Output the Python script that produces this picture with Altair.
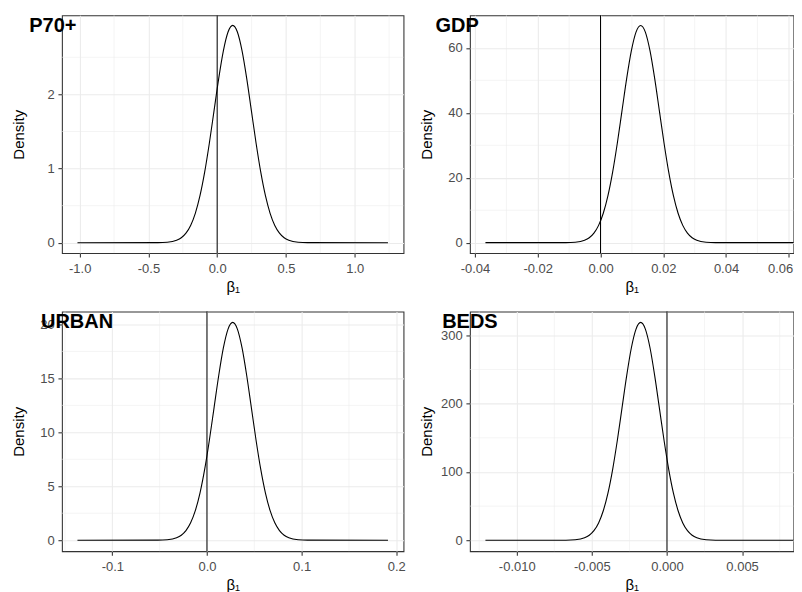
import altair as alt
import pandas as pd

# ---------------- data ----------------
PANEL_NAMES = ["P70+", "GDP", "URBAN", "BEDS"]

P70_X = [-1.016, -0.431, -0.363, -0.295, -0.261, -0.227, -0.193, -0.159, -0.125, -0.091,
         -0.057, -0.023, 0.011, 0.045, 0.079, 0.113, 0.147, 0.181, 0.215, 0.249,
         0.283, 0.317, 0.351, 0.385, 0.419, 0.453, 0.487, 0.521, 0.589, 0.657, 1.242]
P70_Y = [0.0, 0.001, 0.006, 0.033, 0.067, 0.129, 0.233, 0.397, 0.634, 0.951,
         1.341, 1.777, 2.212, 2.586, 2.840, 2.930, 2.840, 2.586, 2.212, 1.777,
         1.341, 0.951, 0.634, 0.397, 0.233, 0.129, 0.067, 0.033, 0.006, 0.001, 0.0]

GDP_X = [-0.03667, -0.01104, -0.00806, -0.00508, -0.00359, -0.0021, -0.00061, 0.00088,
         0.00237, 0.00386, 0.00535, 0.00684, 0.00833, 0.00982, 0.01131, 0.0128,
         0.01429, 0.01578, 0.01727, 0.01876, 0.02025, 0.02174, 0.02323, 0.02472,
         0.02621, 0.0277, 0.02919, 0.03068, 0.03366, 0.03664, 0.06227]
GDP_Y = [0.0, 0.023, 0.147, 0.743, 1.525, 2.940, 5.323, 9.054, 14.468, 21.719,
         30.629, 40.577, 50.499, 59.039, 64.842, 66.9, 64.842, 59.039, 50.499, 40.577,
         30.629, 21.719, 14.468, 9.054, 5.323, 2.940, 1.525, 0.743, 0.147, 0.023, 0.0]

URBAN_X = [-0.13681, -0.05184, -0.04196, -0.03208, -0.02714, -0.0222, -0.01726, -0.01232,
           -0.00738, -0.00244, 0.0025, 0.00744, 0.01238, 0.01732, 0.02226, 0.0272,
           0.03214, 0.03708, 0.04202, 0.04696, 0.0519, 0.05684, 0.06178, 0.06672,
           0.07166, 0.0766, 0.08154, 0.08648, 0.09636, 0.10624, 0.19121]
URBAN_Y = [0.0, 0.007, 0.044, 0.224, 0.460, 0.887, 1.606, 2.733, 4.366, 6.555,
           9.244, 12.246, 15.240, 17.817, 19.569, 20.19, 19.569, 17.817, 15.240, 12.246,
           9.244, 6.555, 4.366, 2.733, 1.606, 0.887, 0.460, 0.224, 0.044, 0.007, 0.0]

BEDS_X = [-0.012084, -0.00673, -0.006108, -0.005485, -0.005174, -0.004863, -0.004551, -0.00424,
          -0.003929, -0.003618, -0.003306, -0.002995, -0.002684, -0.002373, -0.002061, -0.00175,
          -0.001439, -0.001127, -0.000816, -0.000505, -0.000194, 0.000118, 0.000429, 0.00074,
          0.001051, 0.001363, 0.001674, 0.001985, 0.002608, 0.00323, 0.008584]
BEDS_Y = [0.0, 0.108, 0.699, 3.544, 7.270, 14.017, 25.380, 43.173, 68.990, 103.563,
          146.048, 193.483, 240.794, 281.518, 309.184, 319.0, 309.184, 281.518, 240.794, 193.483,
          146.048, 103.563, 68.990, 43.173, 25.380, 14.017, 7.270, 3.544, 0.699, 0.108, 0.0]

# axis breaks (major / minor) and limits
P70_XTICKS = [-1.0, -0.5, 0.0, 0.5, 1.0]
P70_XMINOR = [-0.75, -0.25, 0.25, 0.75, 1.25]
P70_YTICKS = [0, 1, 2]
P70_YMINOR = [0.5, 1.5, 2.5]
P70_XDOM = [-1.129, 1.355]
P70_YDOM = [-0.139, 3.065]

GDP_XTICKS = [-0.04, -0.02, 0.0, 0.02, 0.04, 0.06]
GDP_XMINOR = [-0.03, -0.01, 0.01, 0.03, 0.05]
GDP_YTICKS = [0, 20, 40, 60]
GDP_YMINOR = [10, 30, 50]
GDP_XDOM = [-0.04162, 0.0615]
GDP_YDOM = [-3.2, 70.0]

URBAN_XTICKS = [-0.1, 0.0, 0.1, 0.2]
URBAN_XMINOR = [-0.15, -0.05, 0.05, 0.15]
URBAN_YTICKS = [0, 5, 10, 15, 20]
URBAN_YMINOR = [2.5, 7.5, 12.5, 17.5]
URBAN_XDOM = [-0.15321, 0.20761]
URBAN_YDOM = [-1.02, 21.2]

BEDS_XTICKS = [-0.010, -0.005, 0.0, 0.005]
BEDS_XMINOR = [-0.0125, -0.0075, -0.0025, 0.0025, 0.0075]
BEDS_YTICKS = [0, 100, 200, 300]
BEDS_YMINOR = [50, 150, 250]
BEDS_XDOM = [-0.013117, 0.008421]
BEDS_YDOM = [-16.0, 335.0]

ZERO_LINE = [0.0]

FONT = "Liberation Sans"
MINUS = "\u2212"


def panel(name, xs, ys, xdom, ydom, xticks, yticks, xminor, yminor, digits,
          w, h, tag_dx, tag_dy):
    lbl = "replace(format(datum.value, '.%df'), '%s', '-')" % (digits, MINUS)
    edge = xdom[1] - (xdom[1] - xdom[0]) * 0.02
    xaxis = alt.Axis(
        values=xticks, labelExpr=lbl, title="β₁",
        titleY=38, titleBaseline="alphabetic", labelPadding=5.5,
        labelAlign={"condition": {"test": "datum.value > %r" % edge, "value": "right"},
                    "value": "center"},
        labelOffset={"condition": {"test": "datum.value > %r" % edge, "value": 4},
                     "value": 0},
    )
    yaxis = alt.Axis(values=yticks, title="Density", titleX=-38, titleY=h / 2,
                     titleAngle=270, titleAlign="center", titleBaseline="alphabetic",
                     labelPadding=3.8)
    xs_ = alt.Scale(domain=xdom, nice=False, zero=False)
    ys_ = alt.Scale(domain=ydom, nice=False, zero=False)

    curve = alt.Chart(pd.DataFrame({"x": xs, "y": ys})).mark_line(
        color="black", strokeWidth=1.1, interpolate="monotone", clip=True
    ).encode(
        x=alt.X("x:Q", scale=xs_, axis=xaxis),
        y=alt.Y("y:Q", scale=ys_, axis=yaxis),
    )
    vminor = alt.Chart(pd.DataFrame({"x": xminor})).mark_rule(
        color="#EBEBEB", strokeWidth=0.55
    ).encode(x=alt.X("x:Q", scale=xs_, axis=xaxis))
    hminor = alt.Chart(pd.DataFrame({"y": yminor})).mark_rule(
        color="#EBEBEB", strokeWidth=0.55
    ).encode(y=alt.Y("y:Q", scale=ys_, axis=yaxis))
    vzero = alt.Chart(pd.DataFrame({"x": ZERO_LINE})).mark_rule(
        color="black", strokeWidth=1.0
    ).encode(x=alt.X("x:Q", scale=xs_, axis=xaxis))
    tag = alt.Chart(pd.DataFrame({"t": [name]})).mark_text(
        align="left", baseline="alphabetic", font=FONT, fontSize=20,
        fontWeight="bold", color="black"
    ).encode(x=alt.value(tag_dx), y=alt.value(tag_dy), text="t:N")

    return alt.layer(vminor, hminor, curve, vzero, tag).properties(width=w, height=h)


p1 = panel(PANEL_NAMES[0], P70_X, P70_Y, P70_XDOM, P70_YDOM, P70_XTICKS, P70_YTICKS,
           P70_XMINOR, P70_YMINOR, 1, 342, 238, -32.7, 16.7)
p2 = panel(PANEL_NAMES[1], GDP_X, GDP_Y, GDP_XDOM, GDP_YDOM, GDP_XTICKS, GDP_YTICKS,
           GDP_XMINOR, GDP_YMINOR, 2, 324, 238, -34.5, 16.7)
p3 = panel(PANEL_NAMES[2], URBAN_X, URBAN_Y, URBAN_XDOM, URBAN_YDOM, URBAN_XTICKS, URBAN_YTICKS,
           URBAN_XMINOR, URBAN_YMINOR, 1, 342, 240, -21.0, 16.8)
p4 = panel(PANEL_NAMES[3], BEDS_X, BEDS_Y, BEDS_XDOM, BEDS_YDOM, BEDS_XTICKS, BEDS_YTICKS,
           BEDS_XMINOR, BEDS_YMINOR, 3, 324, 240, -27.8, 16.8)

chart = alt.concat(
    p1, p2, p3, p4, columns=2,
    spacing={"row": 56.5, "column": 66.5}, bounds="flush", align="all"
).properties(
    padding={"left": 3, "top": 5, "right": -1, "bottom": 0},
    background="white",
).configure_view(
    stroke="#333333", strokeWidth=1.07
).configure_axis(
    domain=False,
    grid=True, gridColor="#EBEBEB", gridWidth=1.07,
    tickColor="#333333", tickSize=4, tickWidth=1.07,
    labelFont=FONT, labelFontSize=13, labelColor="#4D4D4D",
    titleFont=FONT, titleFontSize=15, titleColor="black", titleFontWeight="normal",
)

chart.save("out.html", embed_options={"renderer": "svg", "actions": False})
